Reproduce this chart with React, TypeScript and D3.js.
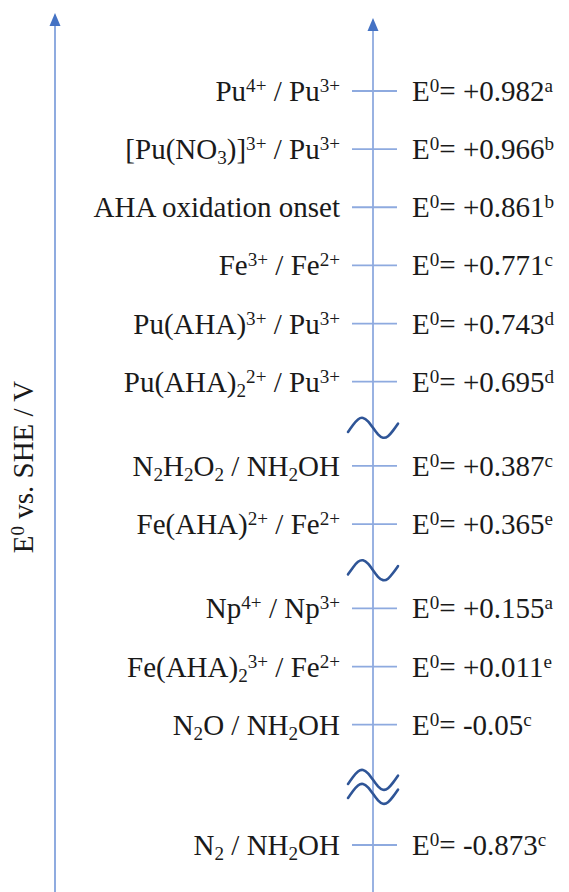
import React from 'react';
import * as d3 from 'd3';

// redox couples, top to bottom
const coupleLabels = [
  'Pu^{4+} / Pu^{3+}',
  '[Pu(NO_{3})]^{3+} / Pu^{3+}',
  'AHA oxidation onset',
  'Fe^{3+} / Fe^{2+}',
  'Pu(AHA)^{3+} / Pu^{3+}',
  'Pu(AHA)_{2}^{2+} / Pu^{3+}',
  'N_{2}H_{2}O_{2} / NH_{2}OH',
  'Fe(AHA)^{2+} / Fe^{2+}',
  'Np^{4+} / Np^{3+}',
  'Fe(AHA)_{2}^{3+} / Fe^{2+}',
  'N_{2}O / NH_{2}OH',
  'N_{2} / NH_{2}OH',
];
const potentials = [0.982, 0.966, 0.861, 0.771, 0.743, 0.695, 0.387, 0.365, 0.155, 0.011, -0.05, -0.873];
const refs = ['a', 'b', 'b', 'c', 'd', 'd', 'c', 'e', 'a', 'e', 'c', 'c'];
// axis breaks: after which row, and how many wavy marks
const axisBreaks = [
  { after: 5, marks: 1 },
  { after: 7, marks: 1 },
  { after: 10, marks: 2 },
];
const axisTitle = 'E^{0} vs. SHE / V';

const W = 569, H = 892;
const axisX = 373, leftAxisX = 55;
const FONT = '"Liberation Serif", "Times New Roman", serif';
const fs = 29;

const breakExtra = (marks: number) => (marks === 1 ? 0.45 : 1.07);

// row index -> slot (rank based, breaks add extra room)
const slotOf = (i: number) =>
  i + d3.sum(axisBreaks.filter(b => b.after < i), b => breakExtra(b.marks));

const y = d3.scaleLinear()
  .domain([0, slotOf(coupleLabels.length - 1)])
  .range([91, 845]);

const fmtE = (v: number) => (v >= 0 ? `+${v.toFixed(3)}` : `${v}`);

// tiny markup: ^{..} superscript, _{..} subscript
const rich = (s: string, size: number) =>
  s.split(/(\^\{[^}]*\}|_\{[^}]*\})/).filter(t => t.length).map((t, k) => {
    if (t.startsWith('^{'))
      return <tspan key={k} fontSize={size * 0.66} baselineShift={size * 0.31}>{t.slice(2, -1)}</tspan>;
    if (t.startsWith('_{'))
      return <tspan key={k} fontSize={size * 0.66} baselineShift={-size * 0.17}>{t.slice(2, -1)}</tspan>;
    return <tspan key={k}>{t}</tspan>;
  });

const wave = d3.line<[number, number]>().curve(d3.curveNatural);
const tildePath = (cy: number, amp: number) => {
  const pts: [number, number][] = d3.range(-25, 26, 5).map(dx => [axisX + dx, cy + amp * Math.sin(2 * Math.PI * dx / 44)]);
  return wave(pts) as string;
};

export default function App() {
  const rowY = coupleLabels.map((_, i) => y(slotOf(i)));

  return (
    <svg width={W} height={H} style={{ position: 'absolute', left: 0, top: 0, background: '#fff' }}
      fontFamily={FONT}>
      <rect width={W} height={H} fill="#fff" />

      {/* left axis */}
      <line x1={leftAxisX} x2={leftAxisX} y1={22} y2={H} stroke="#7396d8" strokeWidth={1.6} />
      <path d={`M${leftAxisX},13 L${leftAxisX - 5.5},26 L${leftAxisX + 5.5},26 Z`} fill="#4472c4" />
      <text transform={`translate(33,467) rotate(-90)`} textAnchor="middle" fontSize={fs} fill="#1a1a1a">
        {rich(axisTitle, fs)}
      </text>

      {/* right axis */}
      <line x1={axisX} x2={axisX} y1={28} y2={H} stroke="#8eaadf" strokeWidth={1.8} />
      <path d={`M${axisX},18 L${axisX - 5.5},31 L${axisX + 5.5},31 Z`} fill="#4472c4" />

      {coupleLabels.map((lab, i) => (
        <g key={i}>
          <line x1={axisX - 21} x2={axisX + 24} y1={rowY[i]} y2={rowY[i]} stroke="#8eaadf" strokeWidth={1.8} />
          <text x={340} y={rowY[i] + 10} textAnchor="end" fontSize={fs} fill="#1a1a1a">
            {rich(lab, fs)}
          </text>
          <text x={412} y={rowY[i] + 10} fontSize={fs} fill="#1a1a1a">
            {rich(`E^{0}= ${fmtE(potentials[i])}^{${refs[i]}}`, fs)}
          </text>
        </g>
      ))}

      {axisBreaks.map((b, k) => {
        const mid = (rowY[b.after] + rowY[b.after + 1]) / 2 + (b.marks === 1 ? 4 : 2);
        const offs = b.marks === 1 ? [0] : [-7, 7];
        return (
          <g key={k}>
            {offs.map((o, j) => (
              <path key={j} d={tildePath(mid + o, 10)} fill="none" stroke="#2f5597" strokeWidth={2.6} strokeLinecap="round" />
            ))}
          </g>
        );
      })}
    </svg>
  );
}
